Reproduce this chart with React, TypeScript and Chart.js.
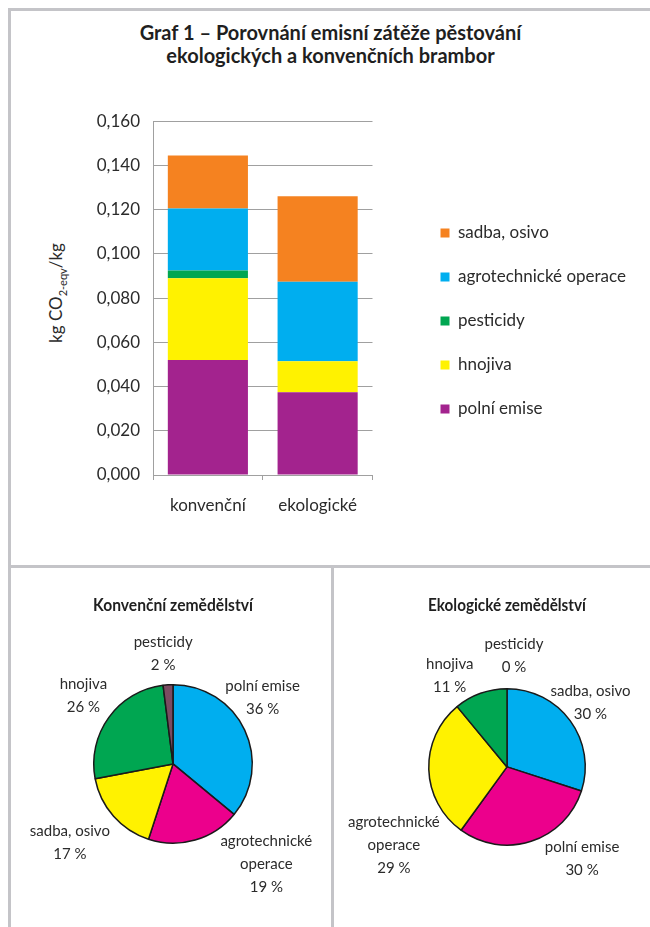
import React, { useEffect, useRef } from "react";
import { Chart, registerables } from "chart.js";

Chart.register(...registerables);

// ---------- DATA ----------
const categories = ["konvenční", "ekologické"];
const seriesNames = ["polní emise", "hnojiva", "pesticidy", "agrotechnické operace", "sadba, osivo"];
const polniEmise = [0.052, 0.0374];
const hnojiva = [0.037, 0.014];
const pesticidy = [0.0035, 0.0];
const agrotechnicke = [0.028, 0.036];
const sadbaOsivo = [0.024, 0.0387];
const yMin = 0;
const yMax = 0.16;
const yStep = 0.02;

const konvTitle = "Konvenční zemědělství";
const konvPieLabels = ["polní emise", "agrotechnické operace", "sadba, osivo", "hnojiva", "pesticidy"];
const konvPieValues = [36, 19, 17, 26, 2];

const ekoTitle = "Ekologické zemědělství";
const ekoPieLabels = ["sadba, osivo", "polní emise", "agrotechnické operace", "hnojiva", "pesticidy"];
const ekoPieValues = [30, 30, 29, 11, 0];

// ---------- STYLE ----------
const FONT = "Lato, 'Noto Sans', sans-serif";
const TEXT = "#2b2b2b";
const GRID = "#a0a0a0";
const PANEL_LINE = "#c4c4c8";
const barColors = ["#A3238E", "#FFF200", "#00A651", "#00AEEF", "#F58220"];
const pieColors = ["#00AEEF", "#EC008C", "#FFF200", "#00A651", "#7B4B61"];

function wrapText(ctx: CanvasRenderingContext2D, text: string, maxWidth: number): string[] {
  const words = text.split(" ");
  const lines: string[] = [];
  let cur = "";
  words.forEach((w) => {
    const test = cur ? cur + " " + w : w;
    if (cur && ctx.measureText(test).width > maxWidth) {
      lines.push(cur);
      cur = w;
    } else {
      cur = test;
    }
  });
  if (cur) lines.push(cur);
  return lines;
}

const pieLabelPlugin = {
  id: "pieLabels",
  afterDatasetsDraw(chart: any, _args: any, opts: any) {
    const meta = chart.getDatasetMeta(0);
    const ctx: CanvasRenderingContext2D = chart.ctx;
    const labels = chart.data.labels as string[];
    const values = chart.data.datasets[0].data as number[];
    ctx.save();
    ctx.font = `${opts.size}px ${FONT}`;
    ctx.fillStyle = opts.color;
    ctx.textAlign = "center";
    ctx.textBaseline = "middle";
    meta.data.forEach((arc: any, i: number) => {
      const p = arc.getProps(["x", "y", "startAngle", "endAngle", "outerRadius"], true);
      const mid = (p.startAngle + p.endAngle) / 2;
      const lines = wrapText(ctx, labels[i], opts.maxWidth).concat([`${values[i]} %`]);
      const w = Math.max(...lines.map((l: string) => ctx.measureText(l).width));
      const h = lines.length * opts.lineHeight;
      const dx = Math.cos(mid);
      const dy = Math.sin(mid);
      const D = p.outerRadius + opts.gap + (Math.abs(dx) * w) / 2 + (Math.abs(dy) * h) / 2;
      const nudge = (opts.nudges && opts.nudges[i]) || [0, 0];
      const cx = p.x + dx * D + nudge[0];
      const cy = p.y + dy * D + nudge[1];
      lines.forEach((line: string, k: number) => {
        ctx.fillText(line, cx, cy - h / 2 + opts.lineHeight * (k + 0.5));
      });
    });
    ctx.restore();
  },
};

function BarChart() {
  const ref = useRef<HTMLCanvasElement>(null);
  useEffect(() => {
    const seriesData = [polniEmise, hnojiva, pesticidy, agrotechnicke, sadbaOsivo];
    const chart = new Chart(ref.current!, {
      type: "bar",
      data: {
        labels: categories,
        datasets: seriesNames.map((name, i) => ({
          label: name,
          data: seriesData[i],
          backgroundColor: barColors[i],
          borderWidth: 0,
          categoryPercentage: 1,
          barPercentage: 0.73,
        })),
      },
      options: {
        animation: false,
        responsive: false,
        maintainAspectRatio: false,
        layout: { padding: { top: 0, right: 14, bottom: 0, left: 0 } },
        plugins: {
          legend: {
            position: "right",
            reverse: true,
            maxWidth: 400,
            labels: {
              boxWidth: 9,
              boxHeight: 9,
              padding: 27,
              color: TEXT,
              font: { family: FONT, size: 17 },
            },
          },
          tooltip: { enabled: false },
          title: { display: false },
        },
        scales: {
          x: {
            stacked: true,
            grid: { display: true, drawOnChartArea: false, drawTicks: true, tickLength: 5, color: GRID, offset: true },
            border: { color: GRID },
            ticks: { color: TEXT, font: { family: FONT, size: 17 }, padding: 15 },
            afterFit: (s: any) => {
              s.height = 69;
            },
          },
          y: {
            stacked: true,
            min: yMin,
            max: yMax,
            ticks: {
              stepSize: yStep,
              color: TEXT,
              font: { family: FONT, size: 17 },
              padding: 13,
              callback: (v: any) => Number(v).toFixed(3).replace(".", ","),
            },
            grid: { color: GRID, drawTicks: false },
            border: { color: GRID },
            afterFit: (s: any) => {
              s.width = 143;
            },
          },
          y2: {
            position: "right",
            display: true,
            grid: { display: false },
            ticks: { display: false },
            border: { display: false },
            afterFit: (s: any) => {
              s.width = 41;
            },
          },
        },
      },
    } as any);
    return () => chart.destroy();
  }, []);
  return (
    <canvas
      ref={ref}
      width={640}
      height={446}
      style={{ position: "absolute", left: 10, top: 98, width: 640, height: 446 }}
    />
  );
}

function PieChart(props: {
  title: string;
  labels: string[];
  values: number[];
  left: number;
  width: number;
  pad: { left: number; right: number; bottom: number };
  titleBottom: number;
  nudges: number[][];
}) {
  const ref = useRef<HTMLCanvasElement>(null);
  useEffect(() => {
    const chart = new Chart(ref.current!, {
      type: "pie",
      data: {
        labels: props.labels,
        datasets: [
          {
            data: props.values,
            backgroundColor: pieColors,
            borderColor: "#1a1a1a",
            borderWidth: 1.5,
          },
        ],
      },
      plugins: [pieLabelPlugin],
      options: {
        animation: false,
        responsive: false,
        maintainAspectRatio: false,
        layout: { padding: { top: 0, left: props.pad.left, right: props.pad.right, bottom: props.pad.bottom } },
        plugins: {
          legend: { display: false },
          tooltip: { enabled: false },
          title: {
            display: true,
            text: props.title,
            color: "#1f1f1f",
            font: { family: FONT, size: 16.5, weight: "bold" },
            padding: { top: 28, bottom: props.titleBottom - 1 },
          },
          pieLabels: {
            size: 15,
            color: TEXT,
            lineHeight: 23,
            gap: 5,
            maxWidth: 92,
            nudges: props.nudges,
          },
        },
      },
    } as any);
    return () => chart.destroy();
  }, []);
  return (
    <canvas
      ref={ref}
      width={props.width}
      height={359}
      style={{ position: "absolute", left: props.left, top: 568, width: props.width, height: 359 }}
    />
  );
}

export default function App() {
  const line = (s: React.CSSProperties) => <div style={{ position: "absolute", background: PANEL_LINE, ...s }} />;
  return (
    <div
      style={{
        position: "absolute",
        left: 0,
        top: 0,
        width: 650,
        height: 927,
        overflow: "hidden",
        background: "#fff",
        fontFamily: FONT,
      }}
    >
      {line({ left: 8, top: 8, width: 3, height: 919 })}
      {line({ left: 8, top: 8, width: 642, height: 3 })}
      {line({ left: 8, top: 565, width: 642, height: 3 })}
      {line({ left: 331, top: 565, width: 3, height: 362 })}
      <div
        style={{
          position: "absolute",
          left: 11,
          top: 21,
          width: 639,
          textAlign: "center",
          fontWeight: "bold",
          fontSize: 20,
          lineHeight: "23px",
          color: "#1f1f1f",
        }}
      >
        Graf 1 – Porovnání emisní zátěže pěstování
        <br />
        ekologických a konvenčních brambor
      </div>
      <div
        style={{
          position: "absolute",
          left: 57,
          top: 293,
          transform: "translate(-50%, -50%) rotate(-90deg)",
          whiteSpace: "nowrap",
          fontSize: 17,
          color: TEXT,
        }}
      >
        kg CO<sub style={{ fontSize: 11 }}>2-eqv</sub>/kg
      </div>
      <BarChart />
      <PieChart
        title={konvTitle}
        labels={konvPieLabels}
        values={konvPieValues}
        left={11}
        width={320}
        pad={{ left: 82, right: 78, bottom: 83 }}
        titleBottom={69}
        nudges={[[-26, -12], [57, -25], [-6, -7], [5, 1], [-3, -1]]}
      />
      <PieChart
        title={ekoTitle}
        labels={ekoPieLabels}
        values={ekoPieValues}
        left={334}
        width={316}
        pad={{ left: 94, right: 64, bottom: 81 }}
        titleBottom={73}
        nudges={[[-21, 12], [39, -19], [17, 74], [-19, 15], [7, -5]]}
      />
    </div>
  );
}
